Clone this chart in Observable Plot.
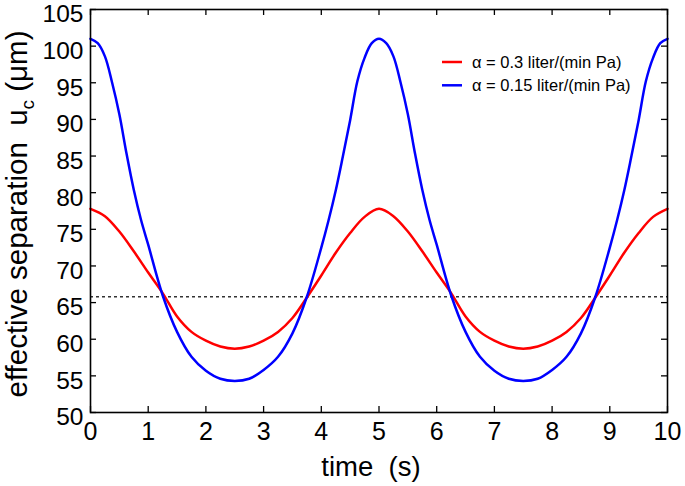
<!DOCTYPE html>
<html><head><meta charset="utf-8">
<script src="https://cdn.jsdelivr.net/npm/d3@7"></script>
<script src="https://cdn.jsdelivr.net/npm/@observablehq/plot@0.6"></script>
<style>
body{margin:0;background:#fff}
svg{font-family:"Liberation Sans",Arial,sans-serif}
</style>
</head><body><div id="chart"></div>
<script>
const redTime = [0, 0.25, 0.5, 0.75, 1, 1.25, 1.5, 1.75, 2, 2.25, 2.5, 2.75, 3, 3.25, 3.5, 3.75, 4, 4.25, 4.5, 4.75,
  5, 5.25, 5.5, 5.75, 6, 6.25, 6.5, 6.75, 7, 7.25, 7.5, 7.75, 8, 8.25, 8.5, 8.75, 9, 9.25, 9.5, 9.75, 10];
const redValues = [77.8, 76.8, 74.7, 72.0, 69.1, 66.3, 63.1, 61.0, 59.8, 59.0, 58.7, 59.0, 59.8, 61.0, 62.9, 65.7, 68.7, 71.8, 74.5, 76.7,
  77.8, 76.8, 74.7, 72.0, 69.1, 66.3, 63.1, 61.0, 59.8, 59.0, 58.7, 59.0, 59.8, 61.0, 62.9, 65.7, 68.7, 71.8, 74.5, 76.7, 77.8];
const blueTime = [0, 0.125, 0.25, 0.375, 0.5, 0.625, 0.75, 0.875, 1, 1.25, 1.5, 1.75, 2, 2.25, 2.5, 2.75, 3, 3.25, 3.5, 3.75,
  4, 4.125, 4.25, 4.375, 4.5, 4.625, 4.75, 4.875,
  5, 5.125, 5.25, 5.375, 5.5, 5.625, 5.75, 5.875, 6, 6.25, 6.5, 6.75, 7, 7.25, 7.5, 7.75, 8, 8.25, 8.5, 8.75,
  9, 9.125, 9.25, 9.375, 9.5, 9.625, 9.75, 9.875, 10];
const blueValues = [101.0, 100.4, 98.6, 95.0, 90.7, 85.3, 80.4, 76.3, 72.9, 66.0, 61.0, 57.6, 55.7, 54.6, 54.3, 54.6, 55.8, 57.6, 60.8, 65.8,
  72.5, 76.2, 80.3, 85.0, 89.9, 95.2, 98.4, 100.4,
  101.0, 100.4, 98.6, 95.0, 90.7, 85.3, 80.4, 76.3, 72.9, 66.0, 61.0, 57.6, 55.7, 54.6, 54.3, 54.6, 55.8, 57.6, 60.8, 65.8,
  72.5, 76.2, 80.3, 85.0, 89.9, 95.2, 98.4, 100.4, 101.0];
const seriesLabels = ["α = 0.3 liter/(min Pa)", "α = 0.15 liter/(min Pa)"];
const seriesColors = ["#ff0000", "#0000ff"];
const referenceLevel = [65.8];
const xTicks = [0, 1, 2, 3, 4, 5, 6, 7, 8, 9, 10];
const yTicks = [50, 55, 60, 65, 70, 75, 80, 85, 90, 95, 100, 105];
const xLabel = "time  (s)";
const yLabelMain = "effective separation  u";
const yLabelSub = "c";
const yLabelEnd = " (μm)";

const rows = [
  ...redTime.map((t, i) => ({t, v: redValues[i], s: seriesLabels[0]})),
  ...blueTime.map((t, i) => ({t, v: blueValues[i], s: seriesLabels[1]}))
];

const W = 685, H = 486, mL = 90, mR = 18, mT = 9, mB = 74;
const fW = W - mL - mR, fH = H - mT - mB, tk = 6;

const plot = Plot.plot({
  width: W, height: H,
  marginLeft: mL, marginRight: mR, marginTop: mT, marginBottom: mB,
  style: {fontFamily: '"Liberation Sans", Arial, sans-serif', background: "white", color: "black"},
  x: {domain: [0, 10]},
  y: {domain: [50, 105]},
  color: {domain: seriesLabels, range: seriesColors},
  marks: [
    Plot.ruleY(referenceLevel, {stroke: "#333", strokeWidth: 1.4, strokeDasharray: "3,3"}),
    Plot.line(rows, {x: "t", y: "v", z: "s", stroke: "s", strokeWidth: 2.5, curve: "catmull-rom"}),
    Plot.tickX(xTicks, {x: d => d, insetTop: fH - tk, stroke: "black", strokeWidth: 1.3}),
    Plot.tickX(xTicks, {x: d => d, insetBottom: fH - tk, stroke: "black", strokeWidth: 1.3}),
    Plot.tickY(yTicks, {y: d => d, insetRight: fW - tk, stroke: "black", strokeWidth: 1.3}),
    Plot.tickY(yTicks, {y: d => d, insetLeft: fW - tk, stroke: "black", strokeWidth: 1.3}),
    Plot.frame({stroke: "black", strokeWidth: 1.6}),
    Plot.axisX(xTicks, {tickSize: 0, tickPadding: 10, fontSize: 25, label: null}),
    Plot.axisY(yTicks, {tickSize: 0, tickPadding: 7, fontSize: 24.5, dy: 5, label: null})
  ]
});
document.getElementById("chart").appendChild(plot);

const svg = d3.select(plot);
svg.append("text")
  .attr("x", 371).attr("y", 476)
  .attr("text-anchor", "middle")
  .style("font-size", "27.5px").style("white-space", "pre").attr("fill", "black")
  .text(xLabel);

const yl = svg.append("text")
  .attr("transform", "translate(27,214) rotate(-90)")
  .attr("text-anchor", "middle")
  .style("font-size", "29.5px").style("white-space", "pre").attr("fill", "black");
yl.append("tspan").text(yLabelMain);
yl.append("tspan").attr("dy", 7).style("font-size", "19px").text(yLabelSub);
yl.append("tspan").attr("dy", -7).text(yLabelEnd);

const lg = svg.append("g");
seriesLabels.forEach((lab, i) => {
  const yy = 62 + i * 23.3;
  lg.append("line").attr("x1", 442).attr("x2", 462).attr("y1", yy).attr("y2", yy)
    .attr("stroke", seriesColors[i]).attr("stroke-width", 2.5);
  lg.append("text").attr("x", 472).attr("y", yy + 5.5)
    .attr("text-anchor", "start")
    .style("font-size", "16.5px").attr("fill", "black").text(lab);
});
</script>
</body></html>
